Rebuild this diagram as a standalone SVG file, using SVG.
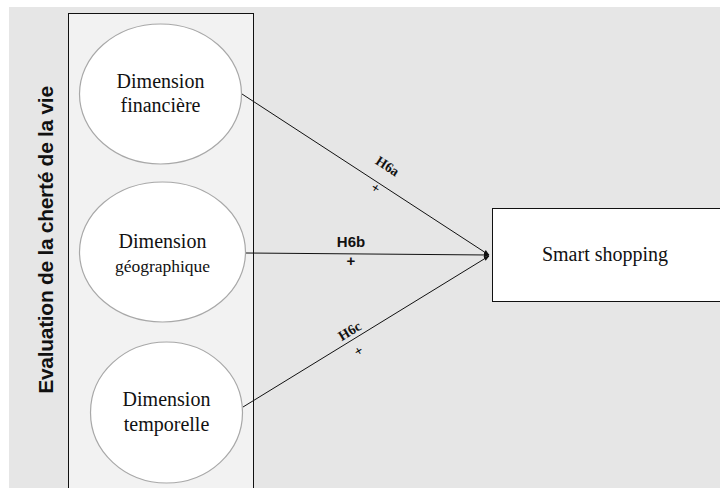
<svg xmlns="http://www.w3.org/2000/svg" width="720" height="488" viewBox="0 0 720 488">
<defs>
<style>
.ell{fill:#ffffff;stroke:#a8a8a8;stroke-width:1.2}
.t{font-family:"Liberation Serif",serif;font-size:20px;fill:#111;text-anchor:middle}
.lbl{font-family:"Liberation Serif",serif;font-size:14px;font-weight:bold;fill:#111;text-anchor:middle}
.lbs{font-family:"Liberation Sans",sans-serif;font-size:15px;font-weight:bold;fill:#111;text-anchor:middle}
.conn{stroke:#111;stroke-width:1;fill:none}
</style>
<marker id="arr" viewBox="0 0 10 10" refX="9" refY="5" markerWidth="6" markerHeight="6" orient="auto">
<path d="M0,1 L10,5 L0,9 z" fill="#111"/>
</marker>
</defs>
<rect x="0" y="0" width="720" height="488" fill="#ffffff"/>
<rect x="9" y="7" width="711" height="481" fill="#e6e6e6"/>
<g id="panel">
<rect x="68.5" y="13.5" width="185" height="480" fill="#f2f2f2" stroke="#111" stroke-width="1"/>
<text transform="translate(53,240) rotate(-90)" font-family="Liberation Sans,sans-serif" font-size="21" font-weight="bold" fill="#111" text-anchor="middle" letter-spacing="-0.3">Evaluation de la cherté de la vie</text>
</g>
<g id="connectors">
<line class="conn" x1="242" y1="94" x2="489" y2="255" marker-end="url(#arr)"/>
<line class="conn" x1="246" y1="253" x2="489" y2="255" marker-end="url(#arr)"/>
<line class="conn" x1="243" y1="407" x2="489" y2="256" marker-end="url(#arr)"/>
<text class="lbl" transform="translate(385,170) rotate(33)">H6a</text>
<text class="lbl" transform="translate(373,192) rotate(33)">+</text>
<text class="lbs" x="351" y="247">H6b</text>
<text class="lbs" x="351" y="266">+</text>
<text class="lbl" transform="translate(352,335) rotate(-31)">H6c</text>
<text class="lbl" transform="translate(361,355) rotate(-31)">+</text>
</g>
<g id="n1">
<ellipse class="ell" cx="160.5" cy="94" rx="81" ry="70"/>
<text class="t" x="160.5" y="88">Dimension</text>
<text class="t" x="160.5" y="112">financière</text>
</g>
<g id="n2">
<ellipse class="ell" cx="162.5" cy="252" rx="83" ry="70"/>
<text class="t" x="162.5" y="248">Dimension</text>
<text class="t" x="162.5" y="272" style="font-size:17.5px">géographique</text>
</g>
<g id="n3">
<ellipse class="ell" cx="166.5" cy="412.5" rx="76" ry="70.5"/>
<text class="t" x="166.5" y="406">Dimension</text>
<text class="t" x="166.5" y="431">temporelle</text>
</g>
<g id="n4">
<rect x="492.5" y="208.5" width="240" height="93" fill="#ffffff" stroke="#111" stroke-width="1"/>
<text class="t" x="605" y="261">Smart shopping</text>
</g>
</svg>
